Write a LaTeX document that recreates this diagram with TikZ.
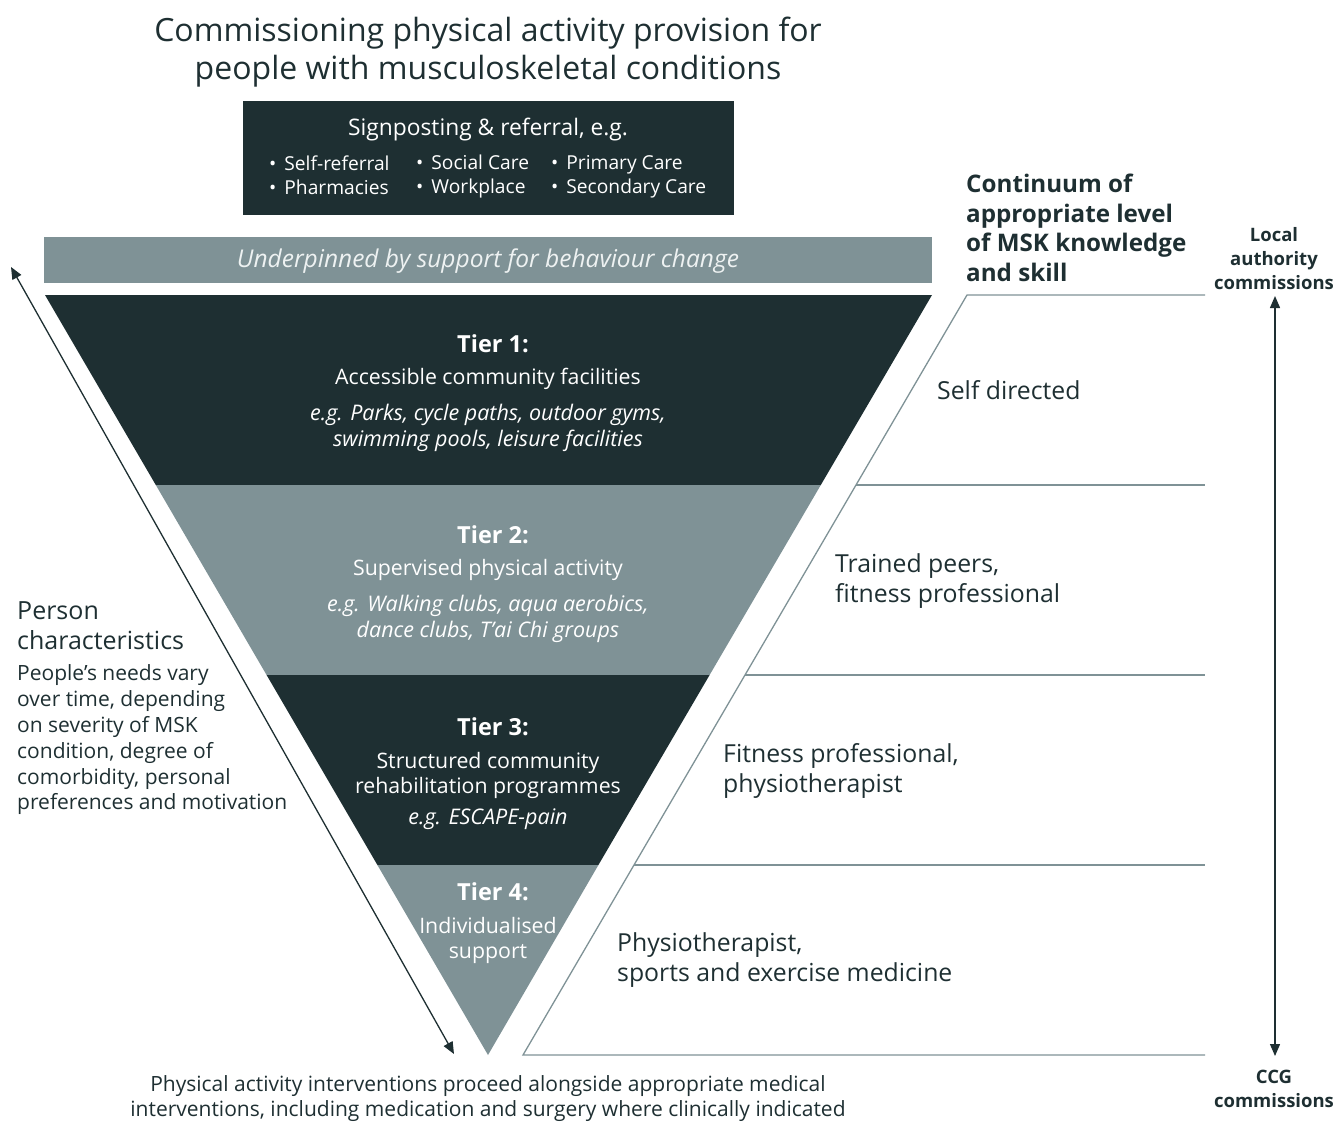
\documentclass[tikz,border=0pt]{standalone}
\usepackage{fontspec}
\setmainfont{Open Sans}
\usetikzlibrary{arrows.meta}
\definecolor{dk}{HTML}{1E2F32}
\definecolor{gr}{HTML}{7F9296}
\definecolor{lt}{HTML}{EEF2F2}
\newcommand\fsz[2]{\fontsize{#1}{#2}\selectfont}
\newcommand\bul{\textbullet\hspace{8pt}}
\tikzset{
  txt/.style={inner sep=0pt, text=dk},
  wtxt/.style={inner sep=0pt, text=white},
  bcol/.style={wtxt, anchor=west, align=left, font=\fsz{19.2}{24}},
  tierhead/.style={wtxt, font=\fsz{23.5}{26}\bfseries},
  tierbody/.style={wtxt, align=center, font=\fsz{21.3}{25}},
  tierex/.style={wtxt, align=center, font=\fsz{21.5}{26}\itshape},
  rlabel/.style={txt, anchor=west, align=left, font=\fsz{24.8}{30}},
  rline/.style={draw=gr, line width=1.3pt},
  dbl/.style={draw=dk, line width=1.3pt, {Triangle[length=12pt,width=10pt]}-{Triangle[length=12pt,width=10pt]}}
}
\begin{document}
\begin{tikzpicture}[x=1pt,y=-1pt]
\useasboundingbox (0,0) rectangle (1338,1122);
% title
\node[txt, align=center, font=\fsz{32}{38}] (title) at (488,52) {Commissioning physical activity provision for\\people with musculoskeletal conditions};
% signposting box
\fill[dk] (243,101) rectangle (734,215);
\node[wtxt, font=\fsz{22.8}{26}] (sign) at (488,130) {Signposting \& referral, e.g.};
\node[bcol] (c1) at (269,177) {\bul Self-referral\\\bul Pharmacies\vphantom{y}};
\node[bcol] (c2) at (416,177) {\bul Social Care\\\bul Workplace\vphantom{y}};
\node[bcol] (c3) at (551,177) {\bul Primary Care\\\bul Secondary Care\vphantom{y}};
% behaviour bar
\fill[gr] (44,237) rectangle (932,283);
\node[inner sep=0pt, text=lt, font=\fsz{24.5}{28}\itshape] (beh) at (488,261) {Underpinned by support for behaviour change};
% triangle tiers
\fill[dk] (45,295) -- (932,295) -- (820.8,485) -- (155.8,485) -- cycle;
\fill[gr] (155.8,485) -- (820.8,485) -- (709.6,675) -- (266.6,675) -- cycle;
\fill[dk] (266.6,675) -- (709.6,675) -- (598.4,865) -- (377.4,865) -- cycle;
\fill[gr] (377.4,865) -- (598.4,865) -- (488,1055) -- cycle;
% tier texts
\node[tierhead] (t1h) at (493,344) {Tier 1:};
\node[tierbody] (t1b) at (488,379) {Accessible community facilities};
\node[tierex] (t1e) at (488,428) {e.g. Parks, cycle paths, outdoor gyms,\\swimming pools, leisure facilities};
\node[tierhead] (t2h) at (493,535) {Tier 2:};
\node[tierbody] (t2b) at (488,570) {Supervised physical activity};
\node[tierex] (t2e) at (488,619) {e.g. Walking clubs, aqua aerobics,\\dance clubs, T’ai Chi groups};
\node[tierhead] (t3h) at (493,727) {Tier 3:};
\node[tierbody] (t3b) at (488,775) {Structured community\\rehabilitation programmes};
\node[tierex] (t3e) at (488,819) {e.g. ESCAPE-pain};
\node[tierhead] (t4h) at (493,892) {Tier 4:};
\node[tierbody] (t4b) at (488,940) {Individualised\\support};
% right parallelogram lines
\coordinate (p0) at (1205,295);
\coordinate (q0) at (967,295);
\coordinate (q1) at (856,485);
\coordinate (p1) at (1205,485);
\coordinate (q2) at (745,675);
\coordinate (p2) at (1205,675);
\coordinate (q3) at (634,865);
\coordinate (p3) at (1205,865);
\coordinate (q4) at (523,1055);
\coordinate (p4) at (1205,1055);
\draw[rline] (p0) -- (q0) -- (q4) -- (p4);
\draw[rline] (q1) -- (p1);
\draw[rline] (q2) -- (p2);
\draw[rline] (q3) -- (p3);
% right labels
\node[rlabel] (r1) at (937,390) {Self directed};
\node[rlabel] (r2) at (835,581) {Trained peers,\\fitness professional};
\node[rlabel] (r3) at (723,771) {Fitness professional,\\physiotherapist};
\node[rlabel] (r4) at (617,960) {Physiotherapist,\\sports and exercise medicine};
\node[txt, anchor=west, align=left, font=\fsz{24.2}{29.5}\bfseries] (cont) at (966,228) {Continuum of\\appropriate level\\of MSK knowledge\\and skill};
% commissions
\node[txt, align=center, font=\fsz{18.5}{24}\bfseries] (la) at (1274,259) {Local\\authority\\commissions};
\node[txt, align=center, font=\fsz{18.5}{24}\bfseries] (ccg) at (1274,1089) {CCG\\commissions};
\draw[dbl] (1275,296) -- (1275,1056);
% left arrow
\coordinate (la1) at (11,267);
\coordinate (la2) at (454,1054);
\draw[dbl] (la1) -- (la2);
% person characteristics
\node[txt, anchor=west, align=left, font=\fsz{25}{30}] (pc) at (17,626) {Person\\characteristics};
\node[txt, anchor=west, align=left, font=\fsz{21}{25.8}] (pcb) at (17,740) {People’s needs vary\\over time, depending\\on severity of MSK\\condition, degree of\\comorbidity, personal\\preferences and motivation};
% bottom
\node[txt, align=center, font=\fsz{21}{25}] (bot) at (488,1099) {Physical activity interventions proceed alongside appropriate medical\\interventions, including medication and surgery where clinically indicated};
\end{tikzpicture}
\end{document}
